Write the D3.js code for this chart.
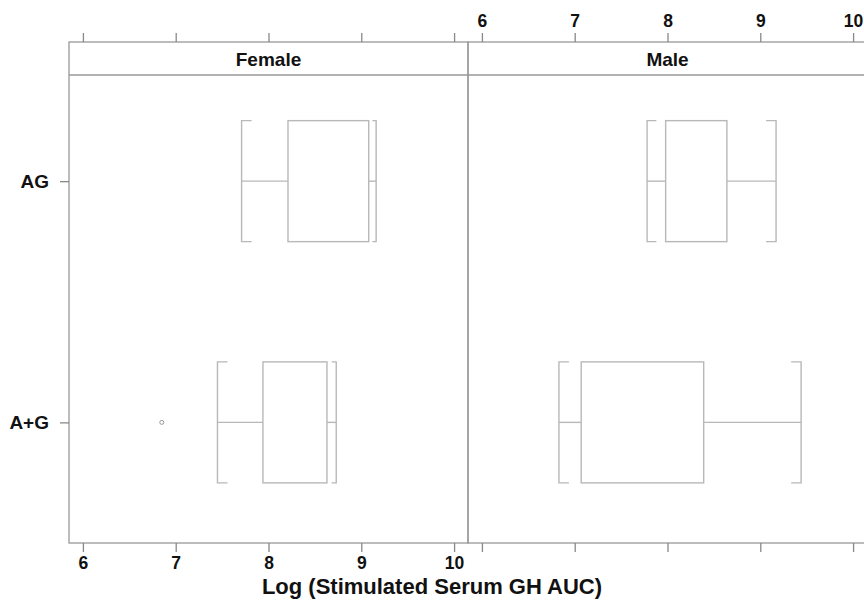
<!DOCTYPE html>
<html>
<head>
<meta charset="utf-8">
<script src="https://cdn.jsdelivr.net/npm/d3@7"></script>
<style>
  body { margin: 0; background: #fff; }
  svg text { font-family: "Liberation Sans", Arial, sans-serif; font-weight: bold; fill: #111; }
</style>
</head>
<body>
<svg id="chart" width="864" height="610"></svg>
<script>
// Box-and-whisker panels, one per sex, Log (Stimulated Serum GH AUC)
const panels = ["Female", "Male"];
const groups = ["AG", "A+G"];
const xTicks = [6, 7, 8, 9, 10];

// per group, same order as groups
const femaleLo = [7.71, 7.45];
const femaleQ1 = [8.21, 7.94];
const femaleQ3 = [9.08, 8.63];
const femaleHi = [9.16, 8.73];
const femaleOut = [{ group: "A+G", v: 6.85 }];

const maleLo = [7.78, 6.83];
const maleQ1 = [7.98, 7.07];
const maleQ3 = [8.64, 8.39];
const maleHi = [9.17, 9.44];
const maleOut = [];

const stats = {
    Female: { lo: femaleLo, q1: femaleQ1, q3: femaleQ3, hi: femaleHi, out: femaleOut },
    Male:   { lo: maleLo,   q1: maleQ1,   q3: maleQ3,   hi: maleHi,   out: maleOut }
};

const svg = d3.select("#chart");
const m = { left: 69, top: 42, strip: 33, bottom: 543 };
const panelW = 399;
const panelTop = m.top + m.strip;

// group positions: A+G = 1, AG = 2
const y = d3.scaleLinear().domain([0.5, 2.44]).range([m.bottom, panelTop]);
const yPos = g => groups.length - groups.indexOf(g);
const boxH = 121;

const frame = "#999", boxCol = "#b8b8b8";
const font = "Liberation Sans, Arial, sans-serif";

panels.forEach((p, pi) => {
    const x0 = m.left + pi * panelW;
    const x = d3.scaleLinear().domain([5.85, 10.15]).range([x0, x0 + panelW]);
    const g = svg.append("g");

    // strip + frame
    g.append("rect")
        .attr("x", x0).attr("y", m.top)
        .attr("width", panelW).attr("height", m.bottom - m.top)
        .attr("fill", "none").attr("stroke", frame).attr("stroke-width", 1.3);
    g.append("line")
        .attr("x1", x0).attr("x2", x0 + panelW)
        .attr("y1", panelTop).attr("y2", panelTop)
        .attr("stroke", frame).attr("stroke-width", 1.3);
    g.append("text")
        .attr("x", x0 + panelW / 2).attr("y", m.top + m.strip / 2 + 7)
        .attr("text-anchor", "middle").attr("font-size", 19)
        .text(p);

    // axes: labels alternate, Female bottom / Male top
    const top = g.append("g").attr("transform", `translate(0,${m.top})`)
        .call(d3.axisTop(x).tickValues(xTicks).tickSize(9).tickPadding(6)
            .tickFormat(pi === 1 ? d3.format("d") : () => ""));
    const bot = g.append("g").attr("transform", `translate(0,${m.bottom})`)
        .call(d3.axisBottom(x).tickValues(xTicks).tickSize(9).tickPadding(5)
            .tickFormat(pi === 0 ? d3.format("d") : () => ""));
    [top, bot].forEach(a => {
        a.select(".domain").remove();
        a.selectAll(".tick line").attr("stroke", "#888").attr("stroke-width", 1.3);
        a.selectAll(".tick text").attr("font-size", 17.5).attr("fill", "#111")
            .attr("font-family", font).attr("font-weight", "bold");
    });

    // boxes
    const s = stats[p];
    groups.forEach((grp, i) => {
        const cy = y(yPos(grp));
        const yt = cy - boxH / 2, yb = cy + boxH / 2;
        const xl = x(s.lo[i]), x1 = x(s.q1[i]), x3 = x(s.q3[i]), xh = x(s.hi[i]);
        const capL = Math.min(10, (x1 - xl) / 2), capH = Math.min(10, (xh - x3) / 2);
        const bg = g.append("g").attr("fill", "none").attr("stroke", boxCol).attr("stroke-width", 1.4);
        bg.append("rect").attr("x", x1).attr("y", yt).attr("width", x3 - x1).attr("height", boxH);
        bg.append("line").attr("x1", xl).attr("x2", x1).attr("y1", cy).attr("y2", cy);
        bg.append("line").attr("x1", x3).attr("x2", xh).attr("y1", cy).attr("y2", cy);
        bg.append("path").attr("d", `M${xl + capL},${yt}H${xl}V${yb}H${xl + capL}`);
        bg.append("path").attr("d", `M${xh - capH},${yt}H${xh}V${yb}H${xh - capH}`);
    });
    g.selectAll("circle.out").data(s.out).join("circle")
        .attr("cx", d => x(d.v)).attr("cy", d => y(yPos(d.group)))
        .attr("r", 2).attr("fill", "none").attr("stroke", "#999").attr("stroke-width", 1);
});

// y axis on left panel
const yAxis = svg.append("g").attr("transform", `translate(${m.left},0)`)
    .call(d3.axisLeft(y).tickValues(groups.map(yPos)).tickSize(9).tickPadding(11)
        .tickFormat(v => groups[groups.length - v]));
yAxis.select(".domain").remove();
yAxis.selectAll(".tick line").attr("stroke", "#888").attr("stroke-width", 1.3);
yAxis.selectAll(".tick text").attr("font-size", 19).attr("fill", "#111")
    .attr("font-family", font).attr("font-weight", "bold");

svg.append("text")
    .attr("x", 432).attr("y", 594)
    .attr("text-anchor", "middle").attr("font-size", 22)
    .text("Log (Stimulated Serum GH AUC)");
</script>
</body>
</html>
